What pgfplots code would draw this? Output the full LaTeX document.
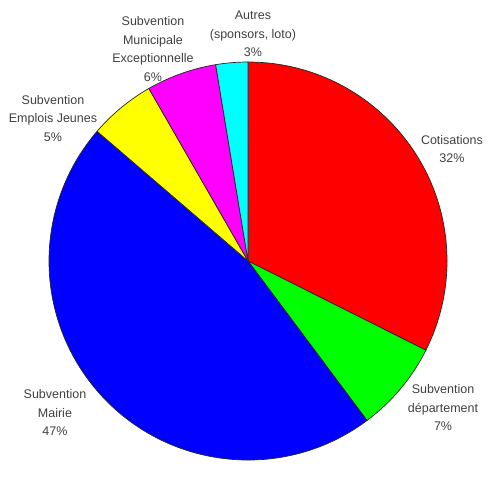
\documentclass[border=0pt]{standalone}
\usepackage{pgfplots}
\pgfplotsset{compat=1.18}
\usepackage{pgfplotstable}
\usepackage{fontspec}
\setmainfont{Liberation Sans}

\definecolor{pred}{RGB}{255,0,0}
\definecolor{pgreen}{RGB}{0,255,0}
\definecolor{pblue}{RGB}{0,0,255}
\definecolor{pyellow}{RGB}{255,255,0}
\definecolor{pmagenta}{RGB}{255,0,255}
\definecolor{pcyan}{RGB}{0,255,255}

% parts of the budget, in percent, clockwise from the top
\pgfplotstableread{
pct   col
32.4  pred
7.4   pgreen
46.5  pblue
5.4   pyellow
5.7   pmagenta
2.6   pcyan
}\piedata

\tikzset{lbl/.style={font=\fontsize{12.5}{18.5}\selectfont, text=black!75, align=center, inner sep=0pt}}

\begin{document}
\begin{tikzpicture}
\begin{axis}[
    x=199pt, y=199pt,
    xmin=-1.2462, xmax=1.2412, ymin=-1.0101, ymax=1.3116,
    hide axis, clip=false,
]
\path (rel axis cs:0,0) rectangle (rel axis cs:1,1);
\pgfplotstablegetrowsof{\piedata}
\pgfmathtruncatemacro\nrows{\pgfplotsretval-1}
\def\cum{90}
\pgfplotsforeachungrouped \i in {0,...,\nrows}{
    \pgfplotstablegetelem{\i}{pct}\of\piedata \let\p\pgfplotsretval
    \pgfplotstablegetelem{\i}{col}\of\piedata \let\c\pgfplotsretval
    \pgfmathsetmacro\a{\cum}
    \pgfmathsetmacro\b{\cum-3.6*\p}
    \edef\temp{\noexpand\filldraw[fill=\c, draw=black!85, line width=0.7pt]
        (axis cs:0,0) -- (axis cs:{cos(\a)},{sin(\a)})
        arc[start angle=\a, end angle=\b, radius=199pt] -- cycle;}
    \temp
    \xdef\cum{\b}
}
% labels (pixel positions / 495, 462)
\node[lbl] at (rel axis cs:0.511,0.926) {Autres\\(sponsors, loto)\\3\%};
\node[lbl] at (rel axis cs:0.309,0.894) {Subvention\\Municipale\\Exceptionnelle\\6\%};
\node[lbl] at (rel axis cs:0.107,0.744) {Subvention\\Emplois Jeunes\\5\%};
\node[lbl] at (rel axis cs:0.913,0.677) {Cotisations\\32\%};
\node[lbl] at (rel axis cs:0.895,0.117) {Subvention\\département\\7\%};
\node[lbl] at (rel axis cs:0.111,0.107) {Subvention\\Mairie\\47\%};
\end{axis}
\end{tikzpicture}
\end{document}
